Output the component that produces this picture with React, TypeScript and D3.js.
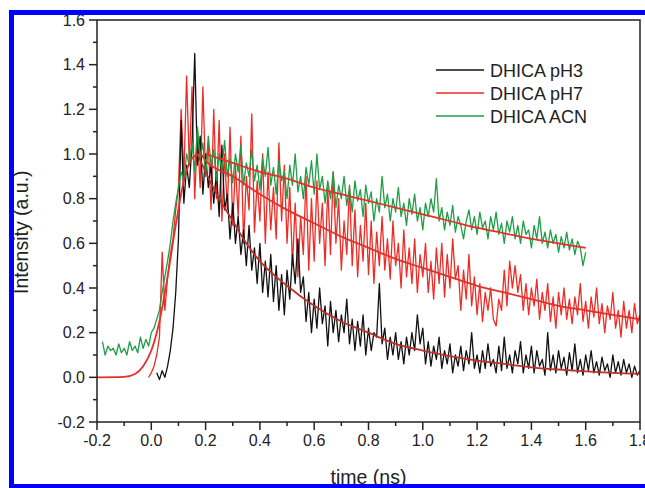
import React from "react";
import * as d3 from "d3";

// ---- data ----
const ph3Start = 0.02;
const ph3Step = 0.01;
const ph3Values = [
  0.02, -0.01, 0.03, 0.0, 0.05, 0.12, 0.22, 0.38, 0.62, 1.15,
  0.78, 0.95, 0.85, 1.05, 1.45, 0.95, 1.08, 0.82, 1.0, 0.85,
  0.95, 0.78, 0.92, 0.72, 1.04, 0.75, 0.82, 0.62, 0.78, 0.6,
  0.72, 0.55, 0.66, 0.5, 0.68, 0.48, 0.58, 0.42, 0.6, 0.38,
  0.52, 0.36, 0.55, 0.34, 0.5, 0.3, 0.46, 0.28, 0.48, 0.35,
  0.55, 0.42, 0.62, 0.38, 0.45, 0.25, 0.38, 0.2, 0.35, 0.22,
  0.4, 0.24, 0.32, 0.14, 0.34, 0.2, 0.3, 0.16, 0.28, 0.2,
  0.35, 0.15, 0.26, 0.12, 0.25, 0.14, 0.28, 0.1, 0.22, 0.12,
  0.2, 0.18, 0.42, 0.15, 0.22, 0.08, 0.18, 0.1, 0.2, 0.08,
  0.16, 0.06, 0.18, 0.1, 0.2, 0.12, 0.28, 0.15, 0.22, 0.06,
  0.16, 0.05, 0.14, 0.08, 0.18, 0.04, 0.12, 0.06, 0.15, 0.02,
  0.1, 0.05, 0.14, 0.03, 0.12, 0.06, 0.2, 0.04, 0.1, 0.02,
  0.12, 0.04, 0.15, 0.05, 0.08, 0.02, 0.14, 0.03, 0.18, 0.04,
  0.1, 0.02, 0.12, 0.06, 0.16, 0.02, 0.1, 0.04, 0.14, 0.02,
  0.12, 0.05, 0.08, 0.01, 0.2, 0.03, 0.1, 0.02, 0.12, 0.04,
  0.09, 0.01, 0.11, 0.03, 0.15, 0.02, 0.08, 0.01, 0.1, 0.03,
  0.12, 0.02, 0.07, 0.01, 0.09, 0.03, 0.06, 0.0, 0.1, 0.02,
  0.07, 0.01, 0.08, 0.02, 0.06, 0.0, 0.05, 0.01, 0.03,
];

const ph7Start = -0.01;
const ph7Step = 0.01;
const ph7Values = [
  0.0, 0.02, 0.05, 0.1, 0.18, 0.56, 0.3, 0.45, 0.55, 0.62,
  0.75, 0.85, 1.2, 0.9, 1.35, 0.95, 1.3, 0.8, 1.1, 0.85,
  1.3, 0.9, 1.05, 0.75, 1.2, 0.8, 1.15, 0.7, 1.0, 0.75,
  1.12, 0.68, 0.95, 0.72, 1.08, 0.6, 0.9, 0.75, 1.18, 0.65,
  0.88, 0.7, 1.0, 0.6, 0.92, 0.66, 0.85, 0.62, 1.05, 0.7,
  0.95, 0.6, 0.85, 0.5, 0.78, 0.45, 0.72, 0.55, 0.9, 0.48,
  0.8, 0.52, 0.88, 0.6, 0.78, 0.5, 0.85, 0.55, 0.92, 0.6,
  0.8, 0.48, 0.7, 0.55, 0.86, 0.5, 0.75, 0.45, 0.68, 0.52,
  0.78, 0.46, 0.7, 0.42, 0.65, 0.5, 0.72, 0.48, 0.62, 0.44,
  0.7, 0.5, 0.6, 0.4, 0.66, 0.45, 0.58, 0.42, 0.62, 0.38,
  0.55, 0.45, 0.6, 0.38, 0.52, 0.35, 0.58, 0.42, 0.6, 0.36,
  0.55, 0.4, 0.62, 0.44, 0.5, 0.3, 0.48, 0.35, 0.55, 0.32,
  0.45, 0.28, 0.42, 0.25, 0.38, 0.3, 0.4, 0.26, 0.23, 0.35,
  0.3, 0.48, 0.32, 0.52, 0.4, 0.5, 0.38, 0.46, 0.3, 0.42,
  0.28, 0.4, 0.32, 0.44, 0.26, 0.38, 0.3, 0.42, 0.25, 0.36,
  0.22, 0.38, 0.28, 0.4, 0.26, 0.35, 0.24, 0.36, 0.28, 0.42,
  0.25, 0.34, 0.22, 0.36, 0.27, 0.4, 0.24, 0.33, 0.2, 0.32,
  0.26, 0.38, 0.22, 0.3, 0.18, 0.34, 0.22, 0.3, 0.2, 0.33,
  0.24, 0.28,
];

const acnStart = -0.18;
const acnStep = 0.01;
const acnValues = [
  0.16, 0.1, 0.14, 0.12, 0.13, 0.1, 0.15, 0.11, 0.13, 0.1,
  0.16, 0.12, 0.14, 0.11, 0.18, 0.13, 0.17, 0.14, 0.2, 0.22,
  0.26, 0.3, 0.38, 0.45, 0.52, 0.6, 0.7, 0.78, 0.85, 0.92,
  0.88, 1.0, 0.95, 1.05, 0.92, 1.12, 0.98, 1.05, 0.9, 1.08,
  0.95, 1.02, 0.88, 1.0, 0.93, 1.06, 0.9, 0.98, 0.87, 1.0,
  0.92, 1.04, 0.86, 0.96, 0.9, 1.02, 0.88, 0.95, 0.84, 0.98,
  0.9, 1.03, 0.86, 0.94, 0.82, 0.97, 0.88, 0.92, 0.8, 0.95,
  0.86, 1.0, 0.83, 0.9, 0.8, 0.94, 0.86, 0.97, 0.82, 1.0,
  0.84, 0.9, 0.78, 0.88, 0.8, 0.92, 0.76, 0.86, 0.8, 0.9,
  0.77, 0.85, 0.74, 0.88, 0.79, 0.84, 0.72, 0.86, 0.78, 0.83,
  0.7, 0.8, 0.74, 0.9, 0.76, 0.82, 0.7, 0.8, 0.74, 0.85,
  0.72, 0.78, 0.68, 0.8, 0.73, 0.82, 0.7, 0.76, 0.66, 0.78,
  0.72, 0.8, 0.74, 0.89, 0.7, 0.76, 0.66, 0.74, 0.68, 0.77,
  0.65, 0.72, 0.68, 0.62, 0.7, 0.75, 0.66, 0.72, 0.64, 0.74,
  0.67, 0.7, 0.62, 0.72, 0.66, 0.74, 0.64, 0.69, 0.6, 0.7,
  0.65, 0.72, 0.62, 0.68, 0.6, 0.7, 0.64, 0.66, 0.58, 0.68,
  0.62, 0.72, 0.6, 0.65, 0.58, 0.66, 0.6, 0.64, 0.56, 0.63,
  0.58, 0.65, 0.57, 0.62, 0.55, 0.61, 0.58, 0.5, 0.56,
];

const ph3FitT = [0.17, 0.2, 0.25, 0.3, 0.35, 0.4, 0.5, 0.6, 0.7, 0.8, 0.9, 1.0, 1.1, 1.2, 1.3, 1.4, 1.5, 1.6, 1.7, 1.8];
const ph3FitY = [1.0, 0.92, 0.8, 0.7, 0.6, 0.52, 0.41, 0.32, 0.25, 0.2, 0.15, 0.12, 0.095, 0.075, 0.06, 0.045, 0.035, 0.027, 0.02, 0.016];

const ph7FitT = [-0.2, -0.1, -0.06, -0.03, 0.0, 0.03, 0.06, 0.09, 0.12, 0.15, 0.18, 0.2, 0.3, 0.4, 0.5, 0.6, 0.7, 0.8, 0.9, 1.0, 1.1, 1.2, 1.3, 1.4, 1.5, 1.6, 1.7, 1.8];
const ph7FitY = [0.0, 0.002, 0.015, 0.05, 0.12, 0.25, 0.45, 0.68, 0.88, 0.98, 1.0, 0.97, 0.9, 0.82, 0.75, 0.69, 0.63, 0.58, 0.53, 0.49, 0.45, 0.41, 0.38, 0.35, 0.32, 0.3, 0.28, 0.26];

const acnFitT = [0.2, 0.3, 0.4, 0.5, 0.6, 0.7, 0.8, 0.9, 1.0, 1.1, 1.2, 1.3, 1.4, 1.5, 1.6];
const acnFitY = [1.0, 0.96, 0.92, 0.89, 0.85, 0.82, 0.79, 0.76, 0.73, 0.7, 0.67, 0.645, 0.62, 0.6, 0.58];

const legendLabels = ["DHICA pH3", "DHICA pH7", "DHICA ACN"];
const xTicks = [-0.2, 0.0, 0.2, 0.4, 0.6, 0.8, 1.0, 1.2, 1.4, 1.6, 1.8];
const yTicks = [-0.2, 0.0, 0.2, 0.4, 0.6, 0.8, 1.0, 1.2, 1.4, 1.6];

const COLORS = { black: "#111111", red: "#ee2b25", green: "#1f9e45", fit: "#e3302a" };

type Pt = [number, number];
const toPts = (start: number, step: number, vals: number[]): Pt[] =>
  vals.map((v, i) => [start + i * step, v]);
const zipPts = (t: number[], y: number[]): Pt[] => t.map((tv, i) => [tv, y[i]]);

export default function App() {
  const W = 645, H = 488;
  const L = 97, R = 640, T = 20, B = 422;
  const x = d3.scaleLinear().domain([-0.2, 1.8]).range([L, R]);
  const y = d3.scaleLinear().domain([-0.2, 1.6]).range([B, T]);

  const line = d3.line<Pt>().x((d) => x(d[0])).y((d) => y(d[1]));
  const smooth = d3.line<Pt>().x((d) => x(d[0])).y((d) => y(d[1])).curve(d3.curveMonotoneX);

  const xMinor = d3.range(-0.1, 1.8, 0.2);
  const yMinor = d3.range(-0.1, 1.6, 0.2);
  const font = "Arial, 'Liberation Sans', Helvetica, sans-serif";

  return (
    <svg width={W} height={H} style={{ position: "fixed", left: 0, top: 0, background: "#fff" }}>
      <rect x={0} y={0} width={W} height={H} fill="#fff" />
      <defs>
        <clipPath id="plotclip">
          <rect x={L} y={T} width={R - L} height={B - T} />
        </clipPath>
      </defs>
      <g clipPath="url(#plotclip)" fill="none" strokeLinejoin="round">
        <path d={line(toPts(ph7Start, ph7Step, ph7Values)) || ""} stroke={COLORS.red} strokeWidth={1.3} />
        <path d={line(toPts(ph3Start, ph3Step, ph3Values)) || ""} stroke={COLORS.black} strokeWidth={1.3} />
        <path d={line(toPts(acnStart, acnStep, acnValues)) || ""} stroke={COLORS.green} strokeWidth={1.3} />
        <path d={smooth(zipPts(ph7FitT, ph7FitY)) || ""} stroke={COLORS.fit} strokeWidth={1.8} />
        <path d={smooth(zipPts(ph3FitT, ph3FitY)) || ""} stroke="#c0302a" strokeWidth={1.8} />
        <path d={smooth(zipPts(acnFitT, acnFitY)) || ""} stroke={COLORS.fit} strokeWidth={1.8} />
      </g>

      {/* frame */}
      <rect x={L} y={T} width={R - L} height={B - T} fill="none" stroke="#222" strokeWidth={1.5} />

      {/* x ticks */}
      {xTicks.map((t) => (
        <g key={"xt" + t}>
          <line x1={x(t)} x2={x(t)} y1={B} y2={B + 8} stroke="#222" strokeWidth={1.5} />
          <text x={x(t)} y={B + 24} textAnchor="middle" fontFamily={font} fontSize={16} fill="#222">
            {t.toFixed(1)}
          </text>
        </g>
      ))}
      {xMinor.map((t) => (
        <line key={"xm" + t} x1={x(t)} x2={x(t)} y1={B} y2={B + 4} stroke="#222" strokeWidth={1.5} />
      ))}

      {/* y ticks */}
      {yTicks.map((t) => (
        <g key={"yt" + t}>
          <line x1={L - 8} x2={L} y1={y(t)} y2={y(t)} stroke="#222" strokeWidth={1.5} />
          <text x={L - 12} y={y(t) + 5.5} textAnchor="end" fontFamily={font} fontSize={16} fill="#222">
            {t.toFixed(1)}
          </text>
        </g>
      ))}
      {yMinor.map((t) => (
        <line key={"ym" + t} x1={L - 4} x2={L} y1={y(t)} y2={y(t)} stroke="#222" strokeWidth={1.5} />
      ))}

      {/* axis titles */}
      <text
        transform={`translate(28, ${y(0.65)}) rotate(-90)`}
        textAnchor="middle"
        fontFamily={font}
        fontSize={19.5}
        fill="#222"
      >
        Intensity (a.u.)
      </text>
      <text x={(L + R) / 2} y={484} textAnchor="middle" fontFamily={font} fontSize={19.5} fill="#222">
        time (ns)
      </text>

      {/* legend */}
      {legendLabels.map((lab, i) => {
        const ly = 70 + i * 23;
        const c = [COLORS.black, COLORS.red, COLORS.green][i];
        return (
          <g key={lab}>
            <line x1={436} x2={484} y1={ly} y2={ly} stroke={c} strokeWidth={1.3} />
            <text x={490} y={ly + 6.5} fontFamily={font} fontSize={18} fill="#222">
              {lab}
            </text>
          </g>
        );
      })}

      {/* blue border */}
      <rect x={11.5} y={12.5} width={700} height={474} fill="none" stroke="#0000ff" strokeWidth={5} />
    </svg>
  );
}
